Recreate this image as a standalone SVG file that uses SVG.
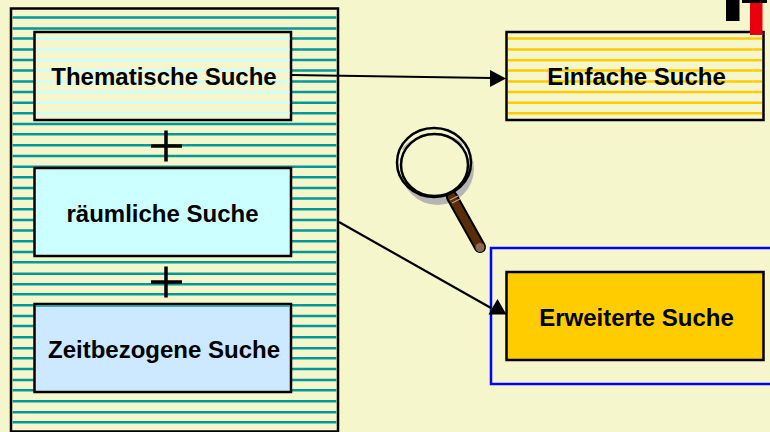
<svg xmlns="http://www.w3.org/2000/svg" width="770" height="432" viewBox="0 0 770 432">
<style>
.box{stroke:#000;stroke-width:2.500}
.lbl{font-family:"Liberation Sans",Arial,sans-serif;font-weight:700;font-size:24px;fill:#000;text-anchor:middle}
.conn{fill:none;stroke:#000;stroke-width:2.200}
.head{fill:#000;stroke:none}
.plus{fill:none;stroke:#000;stroke-width:3.500}
.stripe{fill:none;stroke-width:2.500}
</style>
<rect width="770" height="432" fill="#f6f6cc"/>
<g id="panel"><rect class="box" x="11" y="8.500" width="327" height="423" fill="#f6f6cc"/>
<path class="stripe" stroke="#009999" d="M12.500 17.500H336.500M12.500 28.500H336.500M12.500 38.500H336.500M12.500 49.500H336.500M12.500 60H336.500M12.500 70.500H336.500M12.500 81.500H336.500M12.500 92H336.500M12.500 102.700H336.500M12.500 113.300H336.500M12.500 124H336.500M12.500 134.300H336.500M12.500 145.300H336.500M12.500 156H336.500M12.500 166.700H336.500M12.500 177.300H336.500M12.500 188H336.500M12.500 198.600H336.500M12.500 209.300H336.500M12.500 219.900H336.500M12.500 230.600H336.500M12.500 241.200H336.500M12.500 251.900H336.500M12.500 262.300H336.500M12.500 273.700H336.500M12.500 284.300H336.500M12.500 294.300H336.500M12.500 305.300H336.500M12.500 316H336.500M12.500 326H336.500M12.500 337.300H336.500M12.500 348.300H336.500M12.500 358.300H336.500M12.500 369H336.500M12.500 380H336.500M12.500 390.300H336.500M12.500 401.300H336.500M12.500 412.300H336.500M12.500 422.300H336.500"/></g>
<g id="thematische"><rect class="box" x="34.500" y="32" width="256.500" height="88" fill="#f6f6cc"/>
<path class="stripe" stroke="#ccffff" d="M36 38.500H289.500M36 49.500H289.500M36 60.300H289.500M36 70.500H289.500M36 81.500H289.500M36 92H289.500M36 102.700H289.500M36 113.300H289.500"/>
<text class="lbl" x="164" y="85">Thematische Suche</text></g>
<g id="raeumliche"><rect class="box" x="34.500" y="168" width="256.500" height="88" fill="#ccffff"/><text class="lbl" x="162.500" y="222">räumliche Suche</text></g>
<g id="zeitbezogene"><rect class="box" x="34.500" y="304" width="256.500" height="88" fill="#cce9ff"/><path d="M36 306H289.500" stroke="#009999" stroke-width="1.500"/><text class="lbl" x="164" y="358">Zeitbezogene Suche</text></g>
<g id="plus1"><path class="plus" d="M166 130.500V161.500M151 146H182"/></g>
<g id="plus2"><path class="plus" d="M166 266.500V297.500M151 282H182"/></g>
<g id="einfache"><rect class="box" x="506.500" y="32" width="257" height="88" fill="#f6f6cc"/>
<path class="stripe" stroke="#ffcc00" d="M508 38.500H762M508 49.500H762M508 60.300H762M508 70.500H762M508 81.500H762M508 92H762M508 102.700H762M508 113.300H762"/>
<text class="lbl" x="636.500" y="85">Einfache Suche</text></g>
<g id="erweitert-frame"><rect x="491" y="248" width="290" height="136" fill="none" stroke="#0000ff" stroke-width="2.500"/></g>
<g id="erweiterte"><rect class="box" x="506.500" y="272" width="257" height="88" fill="#ffcc00"/><text class="lbl" x="636.500" y="326">Erweiterte Suche</text></g>
<g id="connectors">
<path class="conn" d="M291 75L492 78"/>
<path class="head" d="M490 70L506 78.500L490 87z"/>
<path class="conn" d="M339 222L491 308"/>
<path class="head" d="M497.500 299L488.500 314.500H506.500z"/>
</g>
<g id="magnifier">
<ellipse cx="437.500" cy="168.500" rx="36.500" ry="36.500" fill="#b5b5b5"/>
<path d="M452 197L480 247" fill="none" stroke="#000" stroke-width="12" stroke-linecap="round"/>
<path d="M452 197L480 247" fill="none" stroke="#5a2d0a" stroke-width="8" stroke-linecap="round"/>
<path d="M450 200L458 196M452 203L460 199" fill="none" stroke="#c9a070" stroke-width="1.200"/>
<circle cx="480" cy="247.500" r="4.500" fill="#8a6a50"/>
<ellipse cx="434" cy="162.500" rx="37" ry="34.500" fill="#f6f6cc" stroke="#000" stroke-width="2.500"/>
<path d="M403 150C412 134 450 130 462 145" fill="none" stroke="#b5b5b5" stroke-width="2.500"/>
<ellipse cx="434.500" cy="165" rx="33.500" ry="31" fill="#f6f6cc" stroke="#000" stroke-width="2.500"/>
</g>
<g id="corner"><rect x="726" y="0" width="13.500" height="21" fill="#000"/><rect x="750" y="2" width="12.500" height="33" fill="#e8000b"/><rect x="742" y="0" width="25" height="3" fill="#000"/></g>
</svg>
